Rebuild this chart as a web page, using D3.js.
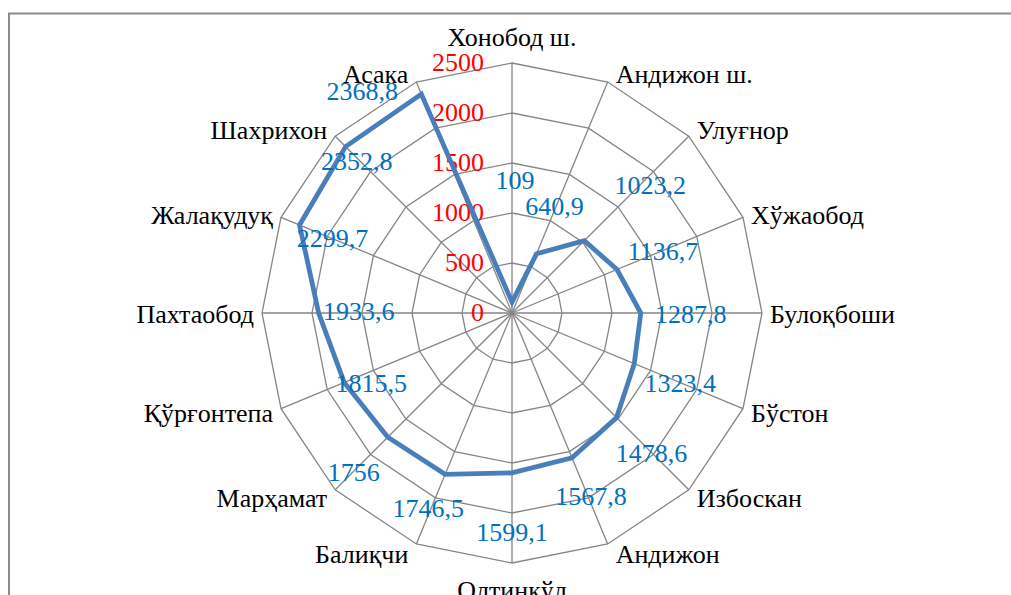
<!DOCTYPE html>
<html>
<head>
<meta charset="utf-8">
<script src="https://cdn.jsdelivr.net/npm/d3@7"></script>
<style>
  html, body { margin: 0; padding: 0; background: #fff; }
  svg { display: block; }
  text { font-family: "Liberation Serif", "Times New Roman", serif; }
</style>
</head>
<body>
<svg id="chart" width="1011" height="595"></svg>
<script>
// Districts, clockwise from the top
const categories = [
  "Хонобод ш.", "Андижон ш.", "Улуғнор", "Хўжаобод", "Булоқбоши", "Бўстон",
  "Избоскан", "Андижон", "Олтинкўл", "Балиқчи", "Марҳамат", "Қўрғонтепа",
  "Пахтаобод", "Жалақудуқ", "Шахрихон", "Асака"
];
const values = [
  109, 640.9, 1023.2, 1136.7, 1287.8, 1323.4,
  1478.6, 1567.8, 1599.1, 1746.5, 1756, 1815.5,
  1933.6, 2299.7, 2352.8, 2368.8
];
const tickValues = [0, 500, 1000, 1500, 2000, 2500];

// Data-label nudges (px) relative to each vertex: [dx, dy to baseline]
const labelNudge = [
  [3, -113], [18, -39], [66, -47], [46, -10], [50, 10], [46, 28],
  [35, 44], [19, 47], [0, 68], [-17, 43], [-34, 44], [27, 10],
  [40, 7], [33, 22], [11, 23], [-59, 6]
];

const svg = d3.select("#chart");
const cx = 512, cy = 313, R = 250;
const n = categories.length;
const fontSize = 26;

const r = d3.scaleLinear().domain([0, 2500]).range([0, R]);
const angle = d3.scaleLinear().domain([0, n]).range([0, 2 * Math.PI]);
const px = (i, v) => cx + r(v) * Math.sin(angle(i));
const py = (i, v) => cy - r(v) * Math.cos(angle(i));

// outer frame
svg.append("path")
  .attr("d", "M9,600 V13.5 H1020")
  .attr("fill", "none")
  .attr("stroke", "#8c8c8c")
  .attr("stroke-width", 2);

const grid = svg.append("g").attr("stroke", "#868686").attr("fill", "none").attr("stroke-width", 1.3);

// spokes
grid.selectAll("line.spoke").data(categories).join("line")
  .attr("x1", cx).attr("y1", cy)
  .attr("x2", (d, i) => px(i, 2500))
  .attr("y2", (d, i) => py(i, 2500));

// rings
const ringLine = d3.line();
grid.selectAll("path.ring").data(tickValues.slice(1)).join("path")
  .attr("d", t => ringLine(categories.map((c, i) => [px(i, t), py(i, t)])) + "Z");

// axis tick labels
svg.append("g").selectAll("text").data(tickValues).join("text")
  .attr("x", cx - 28)
  .attr("y", t => cy - r(t) + 8)
  .attr("text-anchor", "end")
  .attr("font-size", fontSize)
  .attr("fill", "#ff0000")
  .text(t => t);

// data polygon
const dataLine = d3.lineRadial()
  .angle((d, i) => angle(i))
  .radius(d => r(d))
  .curve(d3.curveLinearClosed);
svg.append("path")
  .attr("transform", `translate(${cx},${cy})`)
  .attr("d", dataLine(values))
  .attr("fill", "none")
  .attr("stroke", "#4a7ebb")
  .attr("stroke-width", 4.8)
  .attr("stroke-linejoin", "miter");

// category labels
const fmtNum = v => String(v).replace(".", ",");
svg.append("g").selectAll("text").data(categories).join("text")
  .attr("font-size", fontSize)
  .attr("fill", "#000")
  .each(function (d, i) {
    const a = angle(i);
    const s = Math.sin(a), c = Math.cos(a);
    const vx = px(i, 2500), vy = py(i, 2500);
    const el = d3.select(this);
    if (Math.abs(s) < 0.01) {
      el.attr("text-anchor", "middle").attr("x", vx)
        .attr("y", c > 0 ? vy - 17 : vy + 36);
    } else {
      el.attr("text-anchor", s > 0 ? "start" : "end")
        .attr("x", vx + (s > 0 ? 8 : -8))
        .attr("y", vy + 10 - 10 * c);
    }
  })
  .text(d => d);

// data labels
svg.append("g").selectAll("text").data(values).join("text")
  .attr("x", (v, i) => px(i, v) + labelNudge[i][0])
  .attr("y", (v, i) => py(i, v) + labelNudge[i][1])
  .attr("text-anchor", "middle")
  .attr("font-size", fontSize)
  .attr("fill", "#0070c0")
  .text(v => fmtNum(v));
</script>
</body>
</html>
